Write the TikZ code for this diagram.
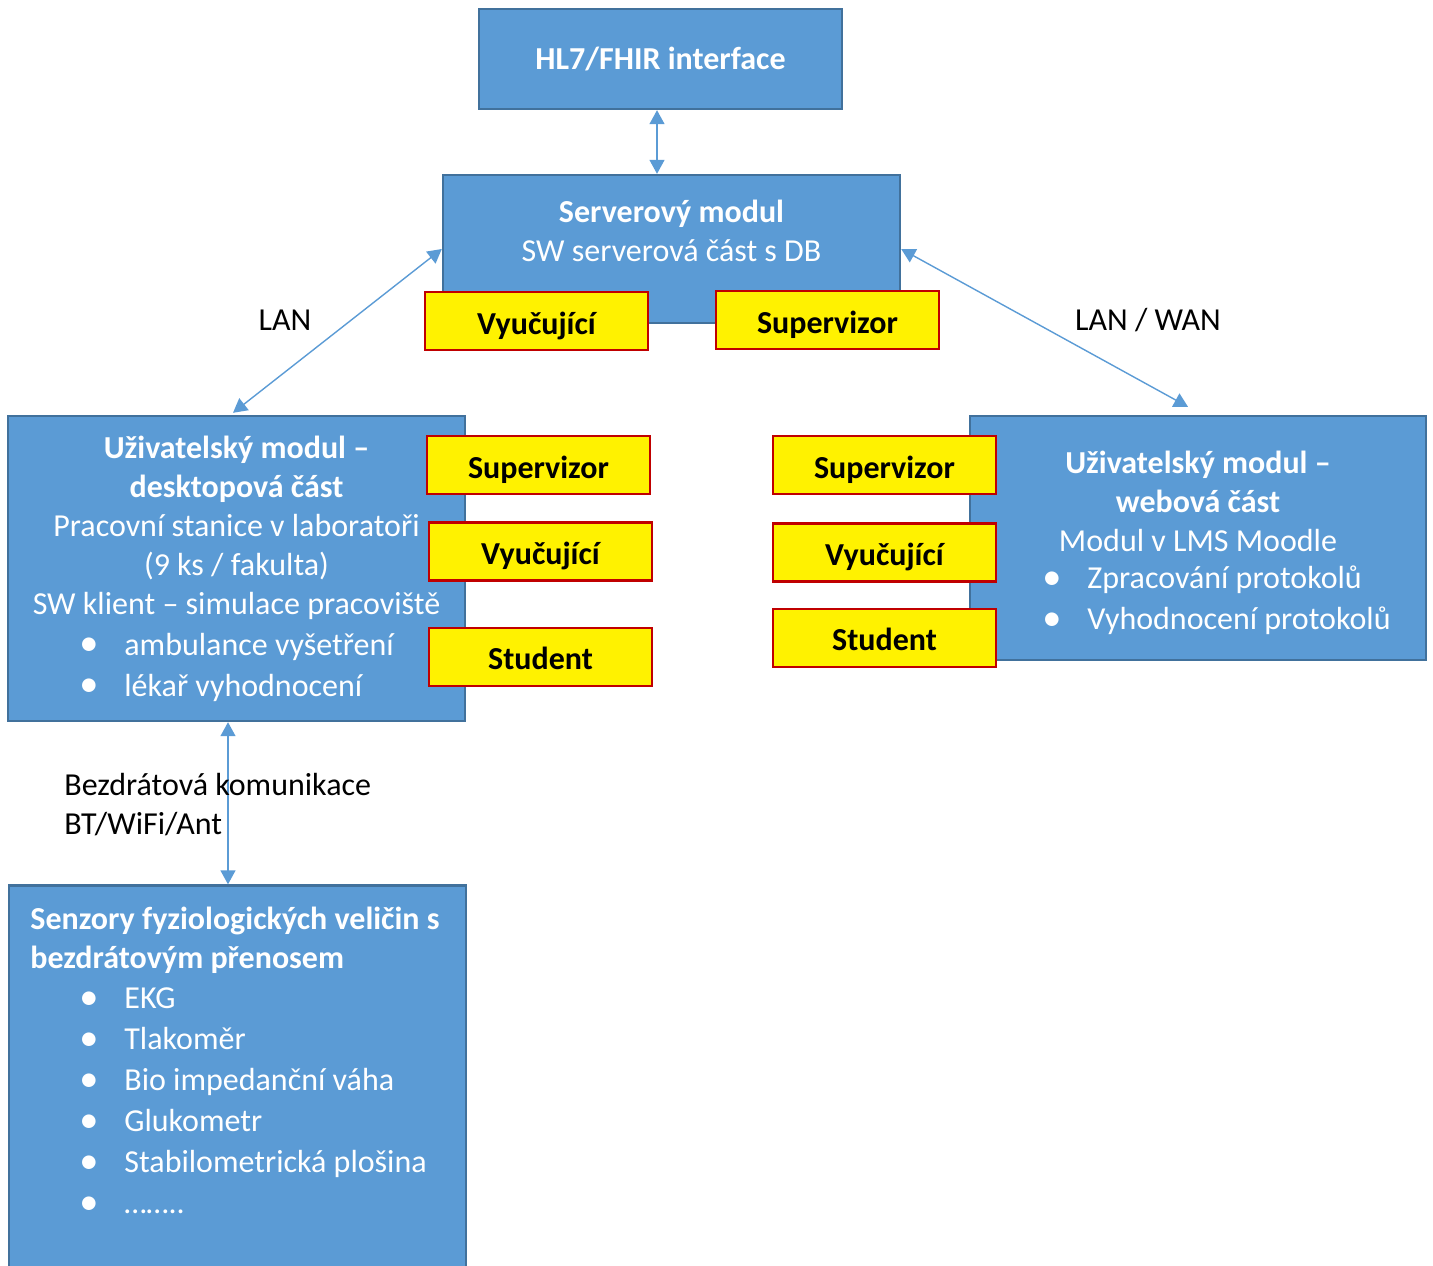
\documentclass[tikz,border=0pt]{standalone}
\usepackage{fontspec}
\setmainfont{Carlito}
\usetikzlibrary{arrows.meta,positioning}
\definecolor{boxblue}{HTML}{5B9BD5}
\definecolor{boxline}{HTML}{41719C}
\definecolor{boxred}{HTML}{C00000}
\newcommand{\bul}{\makebox[22.5pt][l]{\raisebox{-0.4pt}{\scalebox{1.2}{\textbullet}}}}

\begin{document}
\begin{tikzpicture}[x=0.5pt,y=-0.5pt,
		font=\fontsize{16pt}{19.5pt}\selectfont]
		\tikzstyle{blockbox}=[draw=boxline,fill=boxblue,line width=1.2pt,text=white,inner sep=0pt]
		\tikzstyle{rolebox}=[draw=boxred,fill=yellow,line width=1.2pt,font=\fontsize{16pt}{19.5pt}\selectfont\bfseries,
		minimum width=111.5pt,minimum height=29pt,inner sep=0pt,text height=13pt,text depth=0pt]
		\tikzstyle{link}=[color=boxblue,line width=0.7pt,
		{Triangle[length=7pt,width=7.5pt]}-{Triangle[length=7pt,width=7.5pt]}]
		\tikzstyle{blocktext}=[inner sep=0pt,text=white]
		\tikzstyle{listtext}=[inner sep=0pt,text=white,align=left,font=\fontsize{16pt}{20.5pt}\selectfont]
		
		\useasboundingbox (0,0) rectangle (1433,1265);
		
		% blue blocks
		\node[blockbox,minimum width=181.5pt,minimum height=50pt,font=\fontsize{16pt}{19.5pt}\selectfont\bfseries] (hl7) at (660.5,59) {HL7/FHIR interface};
		\node[blockbox,minimum width=228.5pt,minimum height=74pt] (srv) at (671.5,249) {};
		\node[blockbox,minimum width=228.5pt,minimum height=152.5pt] (desk) at (236.5,568.5) {};
		\node[blockbox,minimum width=228pt,minimum height=122pt] (web) at (1198,538) {};
		\node[blockbox,minimum width=228.5pt,minimum height=195pt] (sens) at (237.5,1080.5) {};
		
		\node[blocktext,align=center] (srvtxt) at (671.5,231) {\textbf{Serverový modul}\\SW serverová část s DB};
		\node[blocktext,align=center] (desktxt) at (236.5,528) {\textbf{Uživatelský modul –}\\\textbf{desktopová část}\\Pracovní stanice v laboratoři\\(9 ks / fakulta)\\SW klient – simulace pracoviště};
		\node[listtext,anchor=west] (desklist) at (79,667) {\bul ambulance vyšetření\\\bul lékař vyhodnocení};
		\node[blocktext,align=center] (webtxt) at (1198,501) {\textbf{Uživatelský modul –}\\\textbf{webová část}\\Modul v LMS Moodle};
		\node[listtext,anchor=west] (weblist) at (1042,600) {\bul Zpracování protokolů\\\bul Vyhodnocení protokolů};
		\node[blocktext,align=left,anchor=west,font=\fontsize{16pt}{19.5pt}\selectfont\bfseries] (senstxt) at (30,940) {Senzory fyziologických veličin s\\bezdrátovým přenosem};
		\node[listtext,anchor=west] (senslist) at (79,1101) {\bul EKG\\\bul Tlakoměr\\\bul Bio impedanční váha\\\bul Glukometr\\\bul Stabilometrická plošina\\\bul ……..};
		
		% roles
		\node[rolebox] (srvV) at (536.5,321) {Vyučující};
		\node[rolebox] (srvS) at (827.5,320) {Supervizor};
		\node[rolebox] (deskS) at (538.5,465) {Supervizor};
		\node[rolebox,below=13pt of deskS,xshift=1pt] (deskV) {Vyučující};
		\node[rolebox,below=22.5pt of deskV] (deskSt) {Student};
		\node[rolebox] (webS) at (884.5,465) {Supervizor};
		\node[rolebox,below=13.5pt of webS] (webV) {Vyučující};
		\node[rolebox,below=12.5pt of webV] (webSt) {Student};
		
		% connections
		\path[link] ([xshift=-1.75pt]hl7.south) edge ([xshift=-7.25pt]srv.north)
		([xshift=-1.75pt,yshift=1pt]desk.north) edge (srv.west)
		(srv.east) edge ([xshift=-5pt,yshift=4pt]web.north)
		([xshift=-4.25pt]desk.south) edge ([xshift=-4.75pt]sens.north);
		
		\node (lan) at (285,320) {LAN};
		\node (lanwan) at (1148,320) {LAN / WAN};
		\node[inner sep=0pt,align=left,anchor=west] (wless) at (64,805) {Bezdrátová komunikace\\BT/WiFi/Ant};
\end{tikzpicture}
\end{document}
